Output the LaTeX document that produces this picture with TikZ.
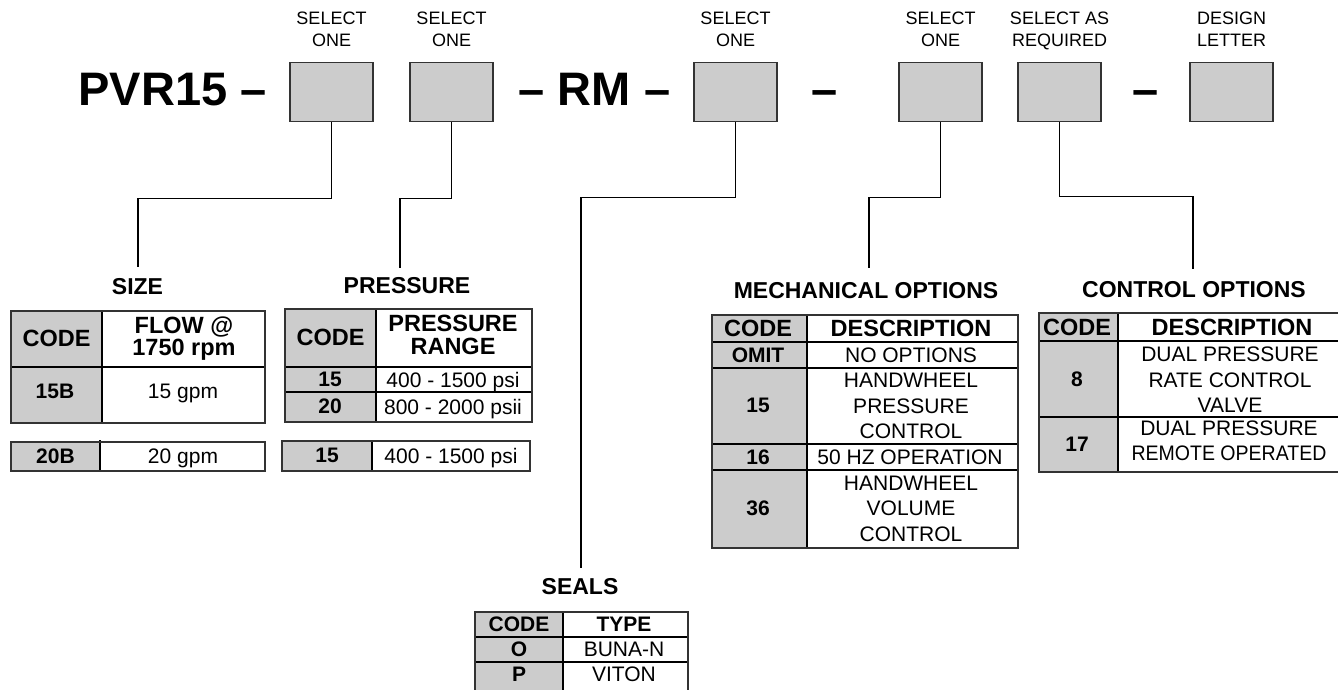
\documentclass[tikz,border=0pt]{standalone}
\usepackage{fontspec}
\setmainfont{Liberation Sans}
\usepackage{graphicx}
\definecolor{codegray}{HTML}{CCCCCC}
\definecolor{edgec}{HTML}{333333}
\newcommand\fsz[2]{\fontsize{#1}{#2}\selectfont}
\tikzset{
  topbox/.style={draw=edgec, fill=codegray, line width=1.5pt, minimum width=83pt, minimum height=59pt, inner sep=0pt},
  conn/.style={draw=black, line width=1.3pt},
  tborder/.style={draw=edgec, line width=1.4pt},
  tline/.style={draw=black, line width=1.2pt},
  txt/.style={inner sep=0pt, outer sep=0pt, anchor=north, align=center},
  lbl/.style={txt, font=\fsz{18}{22}},
  big/.style={inner sep=0pt, anchor=base, font=\fsz{47}{47}\bfseries},
  ttl/.style={txt, font=\fsz{23}{26}\bfseries},
  hd/.style={txt, font=\fsz{23.5}{22.5}\bfseries},
  hds/.style={txt, font=\fsz{21}{25}\bfseries},
  ent/.style={txt, font=\fsz{21}{25.5}},
  entb/.style={txt, font=\fsz{21}{25.5}\bfseries}
}
\begin{document}
\begin{tikzpicture}[x=1pt,y=-1pt]
\useasboundingbox (0,0) rectangle (1338,690);
\clip (0,0) rectangle (1338,690);
\fill[white] (0,0) rectangle (1338,690);

% ---- top code line ----
\node[big] (pvr) at (172.5,106) {PVR15 –};
\node[big] (rm) at (594.5,106) {– RM –};
\node[big] (dash1) at (825,106) {–};
\node[big] (dash2) at (1146,106) {–};

\node[topbox] (b1) at (331.5,92) {};
\node[topbox] (b2) at (451.5,92) {};
\node[topbox] (b3) at (735.5,92) {};
\node[topbox] (b4) at (940.5,92) {};
\node[topbox] (b5) at (1059.5,92) {};
\node[topbox] (b6) at (1231.5,92) {};

\node[lbl] (l1) at (331.5,12) {SELECT\\ONE};
\node[lbl] (l2) at (451.5,12) {SELECT\\ONE};
\node[lbl] (l3) at (735.5,12) {SELECT\\ONE};
\node[lbl] (l4) at (940.5,12) {SELECT\\ONE};
\node[lbl] (l5) at (1059.5,12) {SELECT AS\\REQUIRED};
\node[lbl] (l6) at (1231.5,12) {DESIGN\\LETTER};

% ---- titles ----
\node[ttl] (tsize) at (137.5,278) {SIZE};
\node[ttl] (tpress) at (407,277) {PRESSURE};
\node[ttl] (tmech) at (866,282.5) {MECHANICAL OPTIONS};
\node[ttl] (tctrl) at (1194,281) {CONTROL OPTIONS};
\node[ttl] (tseal) at (580,578.5) {SEALS};

% ---- connectors ----
\coordinate (e1) at (138,267);
\coordinate (e2) at (400,268);
\coordinate (e3) at (581,568);
\coordinate (e4) at (869,268);
\coordinate (e5) at (1193,269);
\draw[conn] (b1.south) -- ++(0,76) -| (e1);
\draw[conn] (b2.south) -- ++(0,76) -| (e2);
\draw[conn] (b3.south) -- ++(0,75) -| (e3);
\draw[conn] (b4.south) -- ++(0,75) -| (e4);
\draw[conn] (b5.south) -- ++(0,74) -| (e5);

% ---- SIZE table ----
\fill[codegray] (11,311) rectangle (102,423);
\draw[tline] (102,311) -- (102,423);
\draw[tline] (11,367) -- (265,367);
\draw[tborder] (11,311) rectangle (265,423);
\node[hd] (s1a) at (56.5,330.5) {CODE};
\node[hd] (s1b) at (184,316.5) {FLOW @\\1750 rpm};
\node[entb] (s1c) at (55,384.5) {15B};
\node[ent] (s1d) at (183,384.5) {15 gpm};

\fill[codegray] (11,442) rectangle (100,471);
\draw[tline] (100,440) -- (100,471);
\draw[tborder] (11,442) rectangle (265,471);
\node[entb] (s2a) at (55.5,449) {20B};
\node[ent] (s2b) at (183,449) {20 gpm};

% ---- PRESSURE table ----
\fill[codegray] (285,309) rectangle (376,422);
\draw[tline] (376,309) -- (376,422);
\draw[tline] (285,367) -- (532,367);
\draw[tline] (285,392) -- (532,392);
\draw[tborder] (285,309) rectangle (532,422);
\node[hd] (p1a) at (330.5,329.5) {CODE};
\node[hd, font=\fsz{23.5}{23}\bfseries] (p1b) at (453,315) {PRESSURE\\RANGE};
\node[entb] (p1c) at (330,372) {15};
\node[ent] (p1d) at (453,372) {400 - 1500 psi};
\node[entb] (p1e) at (330,399) {20};
\node[ent] (p1f) at (453,399) {800 - 2000 psii};

\fill[codegray] (282,441) rectangle (372,471);
\draw[tline] (372,441) -- (372,471);
\draw[tborder] (282,441) rectangle (530,471);
\node[entb] (p2a) at (327,448.5) {15};
\node[ent] (p2b) at (451,448.5) {400 - 1500 psi};

% ---- MECHANICAL OPTIONS table ----
\fill[codegray] (712,315) rectangle (807,548);
\draw[tline] (807,315) -- (807,548);
\foreach \yy in {342,368,444,470} \draw[tline] (712,\yy) -- (1018,\yy);
\draw[tborder] (712,315) rectangle (1018,548);
\node[hd] (m0a) at (758,320) {CODE};
\node[hd] (m0b) at (911,320) {DESCRIPTION};
\node[entb] (m1a) at (758,347.5) {OMIT};
\node[ent] (m1b) at (911,347.5) {NO OPTIONS};
\node[entb] (m2a) at (758,398.5) {15};
\node[ent] (m2b) at (911,373.5) {HANDWHEEL\\PRESSURE\\CONTROL};
\node[entb] (m3a) at (758,449.5) {16};
\node[ent] (m3b) at (910,449.5) {50 HZ OPERATION};
\node[entb] (m4a) at (758,500.5) {36};
\node[ent] (m4b) at (911,476) {HANDWHEEL\\VOLUME\\CONTROL};

% ---- CONTROL OPTIONS table ----
\fill[codegray] (1039,313) rectangle (1118,472);
\draw[tline] (1118,313) -- (1118,472);
\draw[tline] (1039,341) -- (1342,341);
\draw[tline] (1039,417) -- (1342,417);
\draw[tborder] (1039,313) rectangle (1342,472);
\node[hd] (c0a) at (1077,318.6) {CODE};
\node[hd] (c0b) at (1232,318.6) {DESCRIPTION};
\node[entb] (c1a) at (1077,371.5) {8};
\node[ent] (c1b) at (1230,347) {DUAL PRESSURE\\RATE CONTROL\\VALVE};
\node[entb] (c2a) at (1077,437.5) {17};
\node[ent, font=\fsz{21}{25}] (c2b) at (1229,420.5) {DUAL PRESSURE\\\scalebox{0.93}[1]{REMOTE OPERATED}};

% ---- SEALS table ----
\fill[codegray] (475,612) rectangle (563,694);
\draw[tline] (563,612) -- (563,694);
\draw[tline] (475,637) -- (688,637);
\draw[tline] (475,662) -- (688,662);
\draw[tborder] (475,612) rectangle (688,694);
\node[hds] (z0a) at (519,617) {CODE};
\node[hds] (z0b) at (624,617) {TYPE};
\node[entb] (z1a) at (519,642) {O};
\node[ent] (z1b) at (624,642) {BUNA-N};
\node[entb] (z2a) at (519,667) {P};
\node[ent] (z2b) at (624,667) {VITON};
\end{tikzpicture}
\end{document}
